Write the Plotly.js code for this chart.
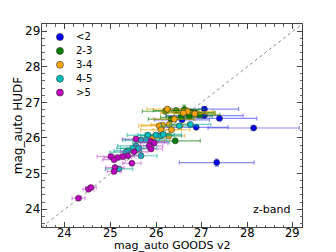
<!DOCTYPE html>
<html><head><meta charset="utf-8">
<script src="https://cdn.plot.ly/plotly-3.0.1.min.js"></script>
<style>html,body{margin:0;padding:0;background:#fff}#plot{width:336px;height:252px}</style>
</head><body><div id="plot"></div>
<script>
// ---- data ----
var groupNames = ["<2", "2-3", "3-4", "4-5", ">5"];
var groupColors = ["#0000ff", "#007f00", "#ffa500", "#00bfbf", "#bf00bf"];
var groupErrColors = ["rgba(60,60,255,0.6)", "rgba(0,127,0,0.6)", "rgba(230,160,0,0.6)", "rgba(0,170,150,0.6)", "rgba(190,60,200,0.55)"];

var x_lt2 = [27.06, 27.06, 27.39, 26.57, 26.88, 28.14, 27.33];
var y_lt2 = [26.81, 26.63, 26.55, 26.51, 26.30, 26.28, 25.31];
var xe_lt2 = [0.75, 0.85, 0.82, 0.6, 0.7, 1.0, 0.82];
var ye_lt2 = [0.05, 0.04, 0.05, 0.04, 0.04, 0.05, 0.1];

var x_23 = [26.62, 26.44, 26.77, 26.95, 26.33, 26.55, 26.73, 26.42, 26.85, 26.20];
var y_23 = [26.80, 26.77, 26.72, 26.65, 26.53, 26.58, 26.61, 25.92, 26.70, 26.75];
var xe_23 = [0.45, 0.5, 0.5, 0.45, 0.5, 0.45, 0.5, 0.55, 0.45, 0.5];
var ye_23 = [0.12, 0.04, 0.04, 0.04, 0.04, 0.04, 0.04, 0.05, 0.04, 0.04];

var x_34 = [26.25, 26.69, 26.40, 26.14, 26.07, 26.29, 26.11, 26.34, 26.28, 25.91, 26.85, 26.60];
var y_34 = [26.81, 26.74, 26.53, 26.36, 26.34, 26.38, 26.23, 26.23, 26.06, 25.99, 26.68, 26.70];
var xe_34 = [0.45, 0.55, 0.45, 0.45, 0.45, 0.4, 0.45, 0.4, 0.35, 0.4, 0.45, 0.5];
var ye_34 = [0.04, 0.04, 0.04, 0.04, 0.04, 0.04, 0.04, 0.04, 0.04, 0.04, 0.04, 0.04];

var x_45 = [26.75, 26.51, 25.82, 26.00, 26.11, 26.16, 25.67, 25.78, 25.89, 25.56, 25.49, 25.62, 25.38, 25.34, 25.67, 25.19];
var y_45 = [26.38, 26.34, 26.08, 26.08, 26.06, 26.10, 25.94, 25.95, 25.88, 25.78, 25.71, 25.71, 25.64, 25.60, 25.50, 25.13];
var xe_45 = [0.45, 0.4, 0.45, 0.4, 0.45, 0.4, 0.4, 0.45, 0.4, 0.4, 0.35, 0.4, 0.3, 0.35, 0.35, 0.3];
var ye_45 = [0.04, 0.04, 0.04, 0.04, 0.04, 0.04, 0.04, 0.04, 0.04, 0.04, 0.04, 0.04, 0.04, 0.04, 0.04, 0.04];

var x_gt5 = [25.56, 25.89, 25.96, 25.85, 25.89, 25.52, 25.38, 25.01, 25.16, 25.08, 25.27, 25.47, 25.10, 25.08, 24.52, 24.57, 24.30];
var y_gt5 = [25.97, 25.90, 25.86, 25.78, 25.69, 25.61, 25.50, 25.48, 25.45, 25.39, 25.48, 25.29, 25.17, 25.06, 24.56, 24.61, 24.31];
var xe_gt5 = [0.3, 0.3, 0.3, 0.3, 0.25, 0.3, 0.3, 0.3, 0.3, 0.25, 0.25, 0.2, 0.2, 0.15, 0.12, 0.12, 0.14];
var ye_gt5 = [0.04, 0.04, 0.04, 0.04, 0.04, 0.04, 0.04, 0.04, 0.04, 0.04, 0.04, 0.04, 0.04, 0.04, 0.03, 0.03, 0.03];

var xRange = [23.5, 29.2];
var yRange = [23.5, 29.2];
var tickVals = [24, 25, 26, 27, 28, 29];
var tickText = ["24", "25", "26", "27", "28", "29"];

var groups = [[x_lt2, y_lt2, xe_lt2, ye_lt2], [x_23, y_23, xe_23, ye_23], [x_34, y_34, xe_34, ye_34], [x_45, y_45, xe_45, ye_45], [x_gt5, y_gt5, xe_gt5, ye_gt5]];

var traces = [{
  x: xRange, y: yRange, mode: 'lines', showlegend: false, hoverinfo: 'skip',
  line: {color: '#888', width: 1, dash: 'dot'}
}];
groups.forEach(function (g, i) {
  traces.push({
    x: g[0], y: g[1], mode: 'markers', name: groupNames[i], type: 'scatter', showlegend: false,
    marker: {color: groupColors[i], size: 6, line: {color: '#333', width: 0.6}},
    error_x: {type: 'data', array: g[2], visible: true, color: groupErrColors[i], thickness: 1.2, width: 2},
    error_y: {type: 'data', array: g[3], visible: true, color: groupErrColors[i], thickness: 1.2, width: 2}
  });
});

// custom compact legend (matplotlib-like), positioned in paper coordinates
var shapes = [], annotations = [];
var legX = 0.069, legTextX = 0.123, legY0 = 0.936, legDy = 0.0685;
groupNames.forEach(function (nm, i) {
  var yy = legY0 - i * legDy;
  shapes.push({type: 'circle', xref: 'paper', yref: 'paper', xsizemode: 'pixel', ysizemode: 'pixel',
    xanchor: legX, yanchor: yy, x0: -3.5, x1: 3.5, y0: -3.5, y1: 3.5,
    fillcolor: groupColors[i], line: {color: '#333', width: 0.6}});
  annotations.push({xref: 'paper', yref: 'paper', x: legTextX, y: yy, xanchor: 'left', yanchor: 'middle',
    text: nm, showarrow: false, font: {family: 'DejaVu Sans', size: 10, color: '#000'}});
});
annotations.push({xref: 'paper', yref: 'paper', x: 0.96, y: 0.085, xanchor: 'right', yanchor: 'middle',
  text: 'z-band', showarrow: false, font: {family: 'DejaVu Sans', size: 11, color: '#000'}});
// x tick labels placed on the x scale, tight under the axis like the reference
tickVals.forEach(function (v, i) {
  annotations.push({xref: 'x', yref: 'paper', x: v, y: -0.03, xanchor: 'center', yanchor: 'middle',
    text: tickText[i], showarrow: false, borderpad: 0, font: {family: 'DejaVu Sans', size: 11.5, color: '#000'}});
});
// x axis title
annotations.push({xref: 'paper', yref: 'paper', x: 0.5, y: -0.092, xanchor: 'center', yanchor: 'middle',
  text: 'mag_auto GOODS v2', showarrow: false, borderpad: 0, font: {family: 'DejaVu Sans', size: 11, color: '#000'}});

var axisCommon = {
  showgrid: false, zeroline: false, showline: true, linecolor: '#444', linewidth: 1.2,
  mirror: 'allticks', ticks: 'inside', ticklen: 5, tickcolor: '#444', tickwidth: 1,
  tickvals: tickVals, ticktext: tickText, tickfont: {family: 'DejaVu Sans', size: 12, color: '#000'},
  minor: {ticks: 'inside', ticklen: 2.5, dtick: 0.2, tickcolor: '#666', showgrid: false},
  fixedrange: true
};

var layout = {
  width: 336, height: 252,
  margin: {l: 42, r: 34, t: 24, b: 25},
  paper_bgcolor: '#fff', plot_bgcolor: '#fff',
  font: {family: 'DejaVu Sans', size: 12, color: '#000'},
  showlegend: false,
  xaxis: Object.assign({}, axisCommon, {range: xRange, showticklabels: false}),
  yaxis: Object.assign({}, axisCommon, {range: yRange, ticklabelstandoff: -2,
    title: {text: 'mag_auto HUDF', standoff: 0, font: {size: 12}}}),
  shapes: shapes,
  annotations: annotations
};

Plotly.newPlot('plot', traces, layout, {displayModeBar: false, staticPlot: true});
</script></body></html>
